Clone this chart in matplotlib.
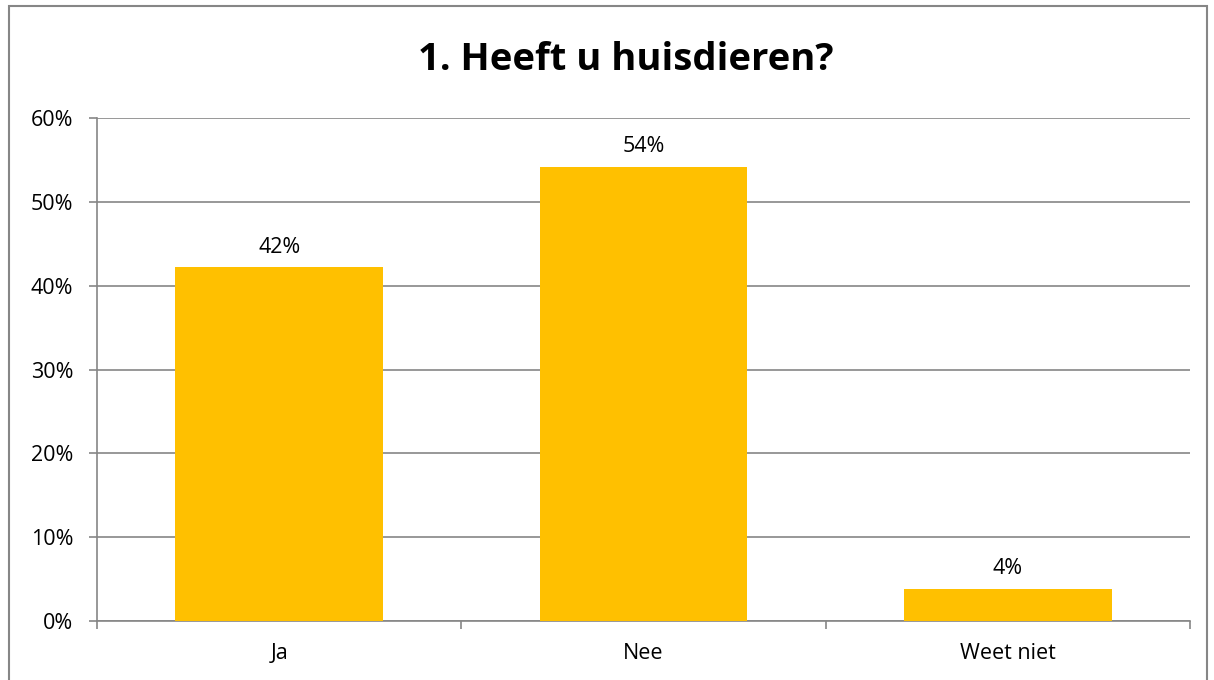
import matplotlib.pyplot as plt
from matplotlib.patches import Rectangle
from matplotlib.ticker import FuncFormatter, FixedLocator

categories = ['Ja', 'Nee', 'Weet niet']
values = [42.2, 54.2, 3.8]
labels = ['42%', '54%', '4%']

plt.rcParams['font.family'] = ['Open Sans', 'DejaVu Sans']

W, H = 1214, 680
fig = plt.figure(figsize=(W / 100, H / 100), dpi=100)
ax = fig.add_axes([97 / W, 59 / H, (1190 - 97) / W, (621 - 118) / H])

grid_col = '#868686'
x = range(len(categories))
ax.bar(x, values, width=0.57, color='#FFC000', zorder=3)
for xi, v, lab in zip(x, values, labels):
    ax.annotate(lab, (xi, v), xytext=(0, 7), textcoords='offset points',
                ha='center', va='bottom', fontsize=15.5)

ax.set_xlim(-0.5, 2.5)
ax.set_ylim(0, 60)
ax.set_yticks(range(0, 61, 10))
ax.yaxis.set_major_formatter(FuncFormatter(lambda v, p: f'{int(v)}%'))
ax.set_xticks(list(x))
ax.set_xticklabels(categories)
ax.xaxis.set_minor_locator(FixedLocator([-0.5, 0.5, 1.5, 2.5]))
ax.tick_params(axis='x', which='major', length=0, pad=16, labelsize=15.5)
ax.tick_params(axis='x', which='minor', length=6, color=grid_col, width=1.2)
ax.tick_params(axis='y', length=6, color=grid_col, width=1.2, labelsize=15.5, pad=11)
ax.grid(axis='y', color=grid_col, linewidth=1.2, zorder=0)

for side in ['top', 'right']:
    ax.spines[side].set_visible(False)
for side in ['left', 'bottom']:
    ax.spines[side].set_color(grid_col)
    ax.spines[side].set_linewidth(1.2)

# title sits a bit right of the figure centre in the original
fig.text(626 / W, 1 - 60 / H, '1. Heeft u huisdieren?', ha='center', va='center',
         fontsize=27.5, fontweight='bold')

fig.patches.append(Rectangle((9 / W, -5 / H), 1198 / W, (H - 6 + 5) / H,
                             transform=fig.transFigure, fill=False,
                             edgecolor='#868686', linewidth=1.5))

fig.savefig('out.png', dpi=100)
